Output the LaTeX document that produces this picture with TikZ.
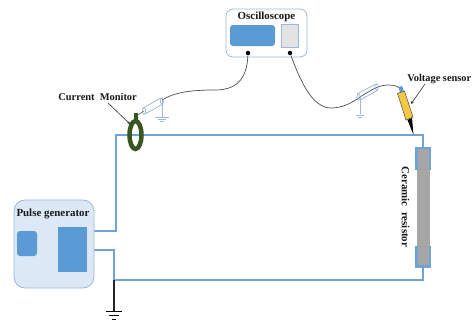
\documentclass[tikz,border=0pt]{standalone}
\usepackage{fontspec}
\setmainfont{Liberation Serif}
\usetikzlibrary{calc,arrows.meta}
\definecolor{wireblue}{HTML}{6FA5D6}
\definecolor{panelblue}{HTML}{5B9BD5}
\definecolor{panellight}{HTML}{DCE8F5}
\definecolor{edgeblue}{HTML}{9DB9D6}
\definecolor{coilgreen}{HTML}{375623}
\definecolor{sensorbody}{HTML}{F4C842}
\definecolor{resgray}{HTML}{A6A6A6}
\tikzset{
  x=1pt,y=-1pt,
  wire/.style={draw=wireblue,line width=2.2pt},
  cable/.style={draw=black!70,line width=0.7pt},
  lab/.style={font=\bfseries\fontsize{10.9}{12}\selectfont,inner sep=0pt,text=black!90},
  smalllab/.style={lab,font=\bfseries\fontsize{10.4}{12}\selectfont},
  dotnode/.style={circle,fill=black,inner sep=0pt,minimum size=4.5pt},
  shield/.style={draw=edgeblue,line width=0.8pt},
  gndthin/.style={draw=edgeblue,line width=0.8pt},
  gndthick/.style={draw=black,line width=1pt},
  leader/.style={draw=black!80,line width=0.6pt}
}
\begin{document}
\begin{tikzpicture}
\useasboundingbox (0,0) rectangle (472,324);
% Oscilloscope
\draw[draw=edgeblue,fill=white,line width=0.8pt,rounded corners=7pt] (226,9) rectangle (307,57);
\node[lab] (osclab) at (266.5,17) {Oscilloscope};
\fill[panelblue,rounded corners=3pt] (230,25) rectangle (275,46);
\draw[draw=edgeblue,fill=black!11,line width=0.8pt] (281,24) rectangle (298,47);
\node[dotnode] (d1) at (248,53) {};
\node[dotnode] (d2) at (290,53) {};
% Wires
\coordinate (gA) at (94,231);
\coordinate (gB) at (94,250);
\coordinate (junction) at (114,280);
\draw[wire] (gA) -- (116,231) -- (116,135) -- (423,135) -- (423,148);
\draw[wire] (gB) -- (114,250) -- (junction) -- (423,280) -- (423,267);
% Resistor
\fill[resgray] (417,149) rectangle (430,266);
\draw[wire] (416.5,170) -- (416.5,148) -- (430,148) -- (430,170);
\draw[wire] (416.5,246) -- (416.5,266.5) -- (430,266.5) -- (430,246);
\node[lab,rotate=-90] (reslab) at (405.5,207) {Ceramic\ \ resistor};
% Pulse generator
\draw[draw=edgeblue,fill=panellight,line width=0.8pt,rounded corners=11pt] (14,200) rectangle (94,288);
\node[lab] (pglab) at (53,214) {Pulse generator};
\fill[panelblue,rounded corners=3pt] (17,231) rectangle (37,256);
\fill[panelblue] (58,227) rectangle (87,272);
% Main ground
\coordinate (g0) at (114,311);
\draw[draw=black!85,line width=1.2pt] (junction) -- (g0);
\draw[gndthick] (106,311) -- (122,311) (109,315) -- (119,315);
\draw[gndthick] (112,319) -- (116,319);
% Coil
\fill[coilgreen] (134,113) rectangle (138,122);
\draw[draw=coilgreen,line width=4.5pt] (135.5,135) ellipse [x radius=6,y radius=14];
% Left probe
\draw[cable] (d1) .. controls (247,75) and (240,90) .. (215,90) .. controls (192,90) and (175,92) .. (162,100);
\draw[gndthin] (162,100) -- (162,117);
\draw[gndthin] (155,117) -- (169,117) (158,119) -- (166,119) (160,121) -- (164,121);
\draw[shield] (143,108) -- (161,98);
\draw[shield] (145,114) -- (163,104);
\draw[shield] (144,111) ellipse [x radius=1.6,y radius=3.2];
\draw[shield] (162,101) ellipse [x radius=1.6,y radius=3.2];
\draw[cable,draw=black!50] (144,111) -- (138,115);
% Right probe
\draw[cable] (d2) .. controls (300,80) and (312,108) .. (331,108) .. controls (342,108) and (352,103) .. (360,97)
  .. controls (370,91) and (378,85) .. (388,85) .. controls (394,85) and (398,86) .. (400,89);
\draw[gndthin] (360,97) -- (360,114);
\draw[gndthin] (356,115) -- (364,115) (358,117) -- (362,117);
\draw[shield] (357,94) -- (375,84.5);
\draw[shield] (360,100) -- (378,90);
\draw[shield] (358.5,97) ellipse [x radius=1.6,y radius=3.2];
\draw[shield] (376.5,87) ellipse [x radius=1.6,y radius=3.2];
% Voltage sensor
\fill[panelblue] (398.5,87) -- (402,86) -- (404,92) -- (400,93) -- cycle;
\draw[draw=black!70,fill=sensorbody,line width=0.5pt] (397.5,93.5) -- (404.5,91) -- (413,117) -- (406,120) -- cycle;
\fill[black] (407.5,120) -- (412,118) -- (413.5,135) -- cycle;
\node[smalllab,anchor=east] (vlab) at (471.5,79) {Voltage sensor};
\coordinate (vtip) at (411,104);
\draw[leader,-{Stealth[length=3pt,width=3pt]}] (425,84) -- (vtip);
% Current monitor label
\node[smalllab,anchor=east] (cmlab) at (137,97) {Current\ \ Monitor};
\coordinate (ctip) at (130,124);
\draw[leader,-{Stealth[length=3pt,width=3pt]}] (108,103) -- (ctip);
\end{tikzpicture}
\end{document}
